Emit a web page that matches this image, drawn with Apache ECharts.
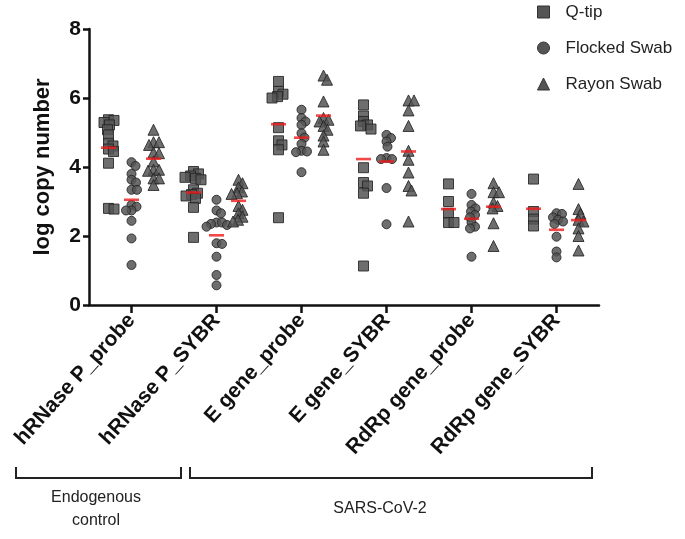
<!DOCTYPE html>
<html>
<head>
<meta charset="utf-8">
<script src="https://cdn.jsdelivr.net/npm/echarts@6/dist/echarts.min.js"></script>
<style>html,body{margin:0;padding:0;background:#fff;}#chart{width:685px;height:539px;}</style>
</head>
<body>
<div id="chart"></div>
<script>
const categories = ['hRNase P_probe','hRNase P_SYBR','E gene_probe','E gene_SYBR','RdRp gene_probe','RdRp gene_SYBR'];
const seriesNames = ['Q-tip','Flocked Swab','Rayon Swab'];
const yTicks = [0,2,4,6,8];

const qtip = [
  [5.37,5.35,5.29,5.22,5.08,4.93,4.69,4.61,4.52,4.45,4.11,2.80,2.78],
  [3.87,3.80,3.74,3.70,3.67,3.63,3.34,3.24,3.20,3.16,3.09,2.83,1.96],
  [6.48,6.19,6.11,6.04,6.00,5.14,4.76,4.64,4.50,2.53],
  [5.80,5.48,5.32,5.22,5.19,5.10,3.98,3.55,3.45,3.24,1.13],
  [3.51,3.00,2.66,2.39,2.39],
  [3.65,2.71,2.49,2.29]
];
const flocked = [
  [4.14,4.03,3.80,3.63,3.55,3.34,3.34,2.90,2.85,2.74,2.74,2.44,1.93,1.16],
  [3.05,2.74,2.66,2.39,2.39,2.35,2.32,2.27,1.79,1.77,1.40,0.87,0.57],
  [5.66,5.42,5.32,5.22,4.98,4.85,4.67,4.47,4.45,4.43,3.85],
  [4.93,4.84,4.74,4.59,4.26,4.23,4.23,3.39,2.34],
  [3.22,2.90,2.80,2.71,2.61,2.54,2.39,2.27,2.22,1.40],
  [2.66,2.64,2.54,2.47,2.42,2.35,1.98,1.55,1.38]
];
const rayon = [
  [5.08,4.72,4.72,4.64,4.42,4.40,4.16,3.92,3.92,3.89,3.67,3.67,3.48],
  [3.63,3.53,3.41,3.29,3.24,3.22,2.87,2.76,2.66,2.56,2.47,2.42],
  [6.65,6.53,5.90,5.42,5.37,5.32,5.19,5.08,4.91,4.74,4.50],
  [5.93,5.93,5.64,5.19,4.47,4.21,3.84,3.45,3.32,2.42],
  [3.53,3.27,3.27,2.97,2.87,2.80,2.37,1.71],
  [3.51,2.78,2.64,2.47,2.42,2.22,2.00,1.58]
];
const qtipMean = [4.56,3.26,5.24,4.23,2.78,2.79];
const flockedMean = [3.05,2.02,4.85,4.16,2.50,2.18];
const rayonMean = [4.24,3.02,5.49,4.45,2.85,2.46];

// layout constants
const GRID = {left:89, right:86, top:29, bottom:234};
const plotW = 685 - GRID.left - GRID.right;
const plotH = 539 - GRID.top - GRID.bottom;
const xPx = plotW / categories.length;   // px per category
const yPx = plotH / 8;                   // px per y unit
const subOffsetPx = [-23, 0, 22];
const symbols = ['rect','circle','triangle'];
const symbolSizes = [10, 9, 11];
const FONT = "'Liberation Sans', Arial, sans-serif";

// deterministic beeswarm spread (pixel offsets) computed from values
function swarm(values, D) {
  const placed = [], out = [];
  values.forEach(v => {
    const y = v * yPx;
    let best = 0, found = false;
    for (let k = 0; k < 60 && !found; k++) {
      const cands = k === 0 ? [0] : [k * 0.5, -k * 0.5];
      for (const x of cands) {
        if (placed.every(p => (p.x - x) * (p.x - x) + (p.y - y) * (p.y - y) >= D * D)) {
          best = x; found = true; break;
        }
      }
    }
    placed.push({x: best, y});
    out.push(best);
  });
  return out;
}

function buildPoints(groups, s) {
  const pts = [];
  groups.forEach((vals, g) => {
    const offs = swarm(vals, 5.2);
    vals.forEach((v, i) => pts.push([g + (subOffsetPx[s] + offs[i]) / xPx, v]));
  });
  return pts;
}
function buildMeans(means, s) {
  return means.map((m, g) => [g + subOffsetPx[s] / xPx, m]);
}

const allGroups = [qtip, flocked, rayon];
const allMeans = [qtipMean, flockedMean, rayonMean];

const series = [];
allGroups.forEach((groups, s) => {
  series.push({
    name: seriesNames[s], type: 'scatter', xAxisIndex: 1, yAxisIndex: 0,
    symbol: symbols[s], symbolSize: symbolSizes[s],
    itemStyle: {color: 'rgba(85,85,85,0.85)', borderColor: 'rgba(35,35,35,0.85)', borderWidth: 1, opacity: 1},
    data: buildPoints(groups, s), z: 2, silent: true
  });
});
allMeans.forEach((means, s) => {
  series.push({
    name: seriesNames[s] + ' mean', type: 'scatter', xAxisIndex: 1, yAxisIndex: 0,
    symbol: 'rect', symbolSize: [15, 2.6],
    itemStyle: {color: '#f01a1a'},
    data: buildMeans(means, s), z: 5, silent: true
  });
});

const chart = echarts.init(document.getElementById('chart'), null, {renderer: 'canvas'});
chart.setOption({
  animation: false,
  backgroundColor: '#fff',
  grid: {left: GRID.left, right: GRID.right, top: GRID.top, bottom: GRID.bottom, containLabel: false},
  legend: {
    data: seriesNames.map((n, i) => ({name: n, icon: symbols[i]})),
    orient: 'vertical', left: 537, top: 2, padding: 0, itemGap: 16, itemWidth: 12, itemHeight: 12,
    textStyle: {fontSize: 17, color: '#222', fontFamily: FONT, padding: [0, 0, 0, 11], lineHeight: 20},
    itemStyle: {color: 'rgb(85,85,85)', borderColor: '#333', borderWidth: 1},
    selectedMode: false
  },
  xAxis: [
    {
      type: 'category', data: categories, boundaryGap: true, position: 'bottom',
      axisLine: {show: true, onZero: false, lineStyle: {color: '#111', width: 2.5}},
      axisTick: {show: true, alignWithLabel: true, length: 8, lineStyle: {color: '#111', width: 2.5}},
      axisLabel: {rotate: 48, margin: 12, fontSize: 21, fontWeight: 'bold', color: '#111', fontFamily: FONT, interval: 0},
      splitLine: {show: false}
    },
    {type: 'value', min: -0.5, max: categories.length - 0.5, show: false}
  ],
  yAxis: {
    type: 'value', min: yTicks[0], max: yTicks[yTicks.length - 1], interval: 2,
    name: 'log copy number', nameLocation: 'middle', nameGap: 35,
    nameTextStyle: {fontSize: 22, fontWeight: 'bold', color: '#111', fontFamily: FONT},
    axisLine: {show: true, onZero: false, lineStyle: {color: '#111', width: 2.5}},
    axisTick: {show: true, length: 6, lineStyle: {color: '#111', width: 2.5}},
    axisLabel: {fontSize: 21, fontWeight: 'bold', color: '#111', fontFamily: FONT, margin: 8},
    splitLine: {show: false}
  },
  graphic: [
    {type: 'polyline', shape: {points: [[16, 467], [16, 478], [181, 478], [181, 467]]}, style: {stroke: '#222', lineWidth: 2, fill: null}},
    {type: 'polyline', shape: {points: [[190, 467], [190, 478], [592, 478], [592, 467]]}, style: {stroke: '#222', lineWidth: 2, fill: null}},
    {type: 'text', x: 96, y: 498, style: {text: 'Endogenous', textAlign: 'center', textVerticalAlign: 'middle', fontSize: 16, fill: '#222', fontFamily: FONT}},
    {type: 'text', x: 96, y: 521, style: {text: 'control', textAlign: 'center', textVerticalAlign: 'middle', fontSize: 16, fill: '#222', fontFamily: FONT}},
    {type: 'text', x: 380, y: 509, style: {text: 'SARS-CoV-2', textAlign: 'center', textVerticalAlign: 'middle', fontSize: 16, fill: '#222', fontFamily: FONT}}
  ],
  series: series
});
</script>
</body>
</html>
